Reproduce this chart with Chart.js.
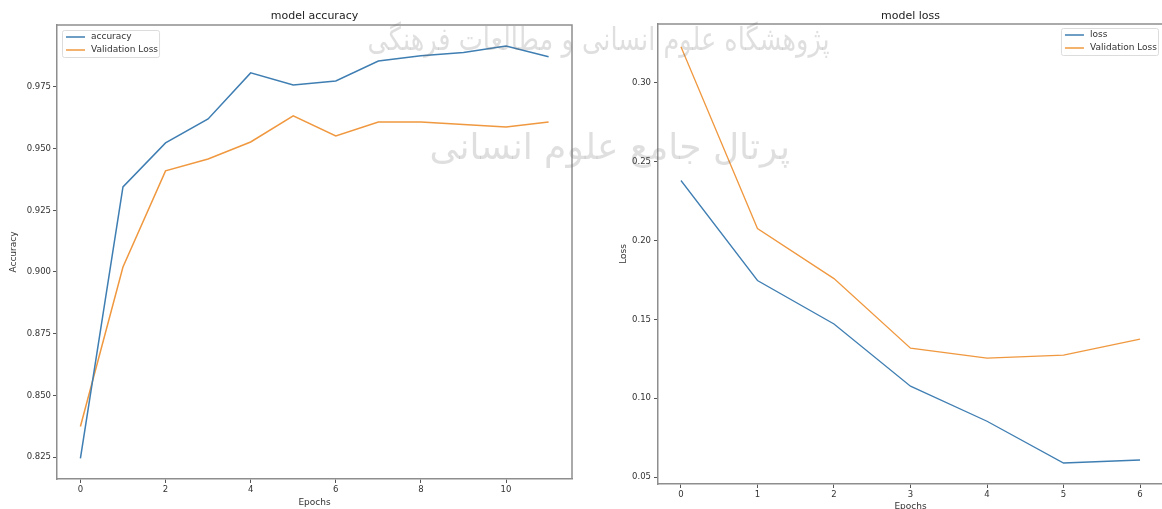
<!DOCTYPE html>
<html>
<head>
<meta charset="utf-8">
<script src="https://cdn.jsdelivr.net/npm/chart.js@4.4.1/dist/chart.umd.min.js"></script>
<style>
  html, body { margin: 0; padding: 0; background: #fff; }
  body { width: 1162px; height: 509px; overflow: hidden; position: relative; }
  .panel { position: absolute; top: 0; }
  .wm {
    position: absolute; white-space: nowrap; direction: rtl;
    font-family: "DejaVu Sans", sans-serif; color: rgba(110,110,110,0.22);
    pointer-events: none; z-index: 5; transform-origin: right center;
  }
</style>
</head>
<body>
<canvas id="accChart" class="panel" style="left:0" width="600" height="509"></canvas>
<canvas id="lossChart" class="panel" style="left:600px" width="580" height="515"></canvas>
<div class="wm" style="right:332px; top:20px; font-size:32px; transform:scaleX(0.8);">پژوهشگاه علوم انسانی و مطالعات فرهنگی</div>
<div class="wm" style="right:372px; top:126px; font-size:36px;">پرتال جامع علوم انسانی</div>
<script>
// Training history: accuracy run (12 epochs) and loss run (7 epochs)
const epochsAcc = [0, 1, 2, 3, 4, 5, 6, 7, 8, 9, 10, 11];
const accuracy = [0.8245, 0.9345, 0.9523, 0.9620, 0.9807, 0.9758, 0.9774, 0.9855, 0.9876, 0.9890, 0.9916, 0.9872];
const valAccuracy = [0.8374, 0.9020, 0.9410, 0.9458, 0.9527, 0.9633, 0.9551, 0.9608, 0.9608, 0.9598, 0.9588, 0.9608];

const epochsLoss = [0, 1, 2, 3, 4, 5, 6];
const loss = [0.2380, 0.1746, 0.1470, 0.1076, 0.0854, 0.0589, 0.0608];
const valLoss = [0.3228, 0.2076, 0.1758, 0.1317, 0.1254, 0.1273, 0.1374];

const accXTicks = [0, 2, 4, 6, 8, 10];
const accYTicks = [0.825, 0.850, 0.875, 0.900, 0.925, 0.950, 0.975];
const lossXTicks = [0, 1, 2, 3, 4, 5, 6];
const lossYTicks = [0.05, 0.10, 0.15, 0.20, 0.25, 0.30];

const FONT = '"DejaVu Sans", "Liberation Sans", sans-serif';
const TEXT = '#333';
const AXIS = '#8e8e8e';
const BLUE = '#3f7eb2';
const ORANGE = '#f0983f';

const toPoints = (xs, ys) => xs.map((x, i) => ({ x, y: ys[i] }));

// Draws the closing top/right spines, the panel title and an in-plot legend box
const panelDecor = {
  id: 'panelDecor',
  afterDraw(chart, args, o) {
    const { ctx, chartArea: a } = chart;
    ctx.save();
    ctx.strokeStyle = AXIS;
    ctx.lineWidth = 1.5;
    ctx.beginPath();
    ctx.moveTo(a.left, a.top);
    ctx.lineTo(a.right, a.top);
    ctx.lineTo(a.right, a.bottom);
    ctx.stroke();

    ctx.fillStyle = '#222';
    ctx.font = '11px ' + FONT;
    ctx.textAlign = 'center';
    ctx.textBaseline = 'middle';
    ctx.fillText(o.title, (a.left + a.right) / 2, o.titleY);

    // legend
    const ds = chart.data.datasets;
    ctx.font = '9px ' + FONT;
    const textW = Math.max(...ds.map(d => ctx.measureText(d.label).width));
    const w = 30 + textW;
    const h = 27;
    const bx = o.legendSide === 'left' ? a.left + 5 : a.right - 5 - w;
    const by = a.top + o.legendTop;
    ctx.fillStyle = 'rgba(255,255,255,0.85)';
    ctx.strokeStyle = '#dcdcdc';
    ctx.lineWidth = 1;
    ctx.beginPath();
    ctx.roundRect(bx + 0.5, by + 0.5, w, h, 2);
    ctx.fill();
    ctx.stroke();
    ds.forEach((d, i) => {
      const y = by + 7 + i * 13;
      ctx.strokeStyle = d.borderColor;
      ctx.lineWidth = 1.5;
      ctx.beginPath();
      ctx.moveTo(bx + 4, y);
      ctx.lineTo(bx + 23, y);
      ctx.stroke();
      ctx.fillStyle = TEXT;
      ctx.textAlign = 'left';
      ctx.fillText(d.label, bx + 29, y);
    });
    ctx.restore();
  }
};

function makeChart(id, cfg) {
  const tickFont = { family: FONT, size: 8.5 };
  const labelFont = { family: FONT, size: 9 };
  return new Chart(document.getElementById(id), {
    type: 'line',
    data: {
      datasets: cfg.series.map(s => ({
        label: s.label,
        data: toPoints(cfg.xs, s.values),
        borderColor: s.color,
        backgroundColor: s.color,
        borderWidth: cfg.lineWidth,
        pointRadius: 0,
        tension: 0,
        fill: false
      }))
    },
    options: {
      responsive: false,
      animation: false,
      events: [],
      layout: { padding: cfg.padding },
      plugins: {
        legend: { display: false },
        title: { display: false },
        tooltip: { enabled: false },
        panelDecor: cfg.decor
      },
      scales: {
        x: {
          type: 'linear',
          min: cfg.xMin, max: cfg.xMax,
          afterBuildTicks: s => { s.ticks = cfg.xTicks.map(v => ({ value: v })); },
          afterFit: s => { s.height = cfg.xAxisHeight; },
          ticks: { font: tickFont, color: TEXT, padding: 2, maxRotation: 0, autoSkip: false,
                   callback: v => String(v) },
          grid: { drawOnChartArea: false, drawTicks: true, tickLength: 4, tickColor: '#555', tickWidth: 1 },
          border: { display: true, color: AXIS, width: 1.5 },
          title: { display: true, text: 'Epochs', font: labelFont, color: TEXT,
                   padding: { top: 0, bottom: cfg.xTitlePad } }
        },
        y: {
          type: 'linear',
          min: cfg.yMin, max: cfg.yMax,
          afterBuildTicks: s => { s.ticks = cfg.yTicks.map(v => ({ value: v })); },
          afterFit: s => { s.width = cfg.yAxisWidth; },
          ticks: { font: tickFont, color: TEXT, padding: cfg.yTickPad, autoSkip: false,
                   callback: v => v.toFixed(cfg.yDecimals) },
          grid: { drawOnChartArea: false, drawTicks: true, tickLength: 4, tickColor: '#555', tickWidth: 1 },
          border: { display: true, color: AXIS, width: 1.5 },
          title: { display: true, text: cfg.yTitle, font: labelFont, color: TEXT,
                   padding: { top: cfg.yTitlePad, bottom: 0 } }
        }
      }
    },
    plugins: [panelDecor]
  });
}

makeChart('accChart', {
  xs: epochsAcc,
  series: [
    { label: 'accuracy', values: accuracy, color: BLUE },
    { label: 'Validation Loss', values: valAccuracy, color: ORANGE }
  ],
  lineWidth: 1.5,
  padding: { top: 25, left: 0, right: 28, bottom: 0 },
  xMin: -0.55, xMax: 11.55, xTicks: accXTicks,
  yMin: 0.8161, yMax: 1.0001, yTicks: accYTicks, yDecimals: 3,
  xAxisHeight: 30, yAxisWidth: 57, yTickPad: 2,
  xTitlePad: 1, yTitlePad: 8, yTitle: 'Accuracy',
  decor: { title: 'model accuracy', titleY: 16, legendSide: 'left', legendTop: 5 }
});

makeChart('lossChart', {
  xs: epochsLoss,
  series: [
    { label: 'loss', values: loss, color: BLUE },
    { label: 'Validation Loss', values: valLoss, color: ORANGE }
  ],
  lineWidth: 1.3,
  padding: { top: 24, left: 0, right: 17, bottom: 0 },
  xMin: -0.3, xMax: 6.3, xTicks: lossXTicks,
  yMin: 0.0456, yMax: 0.3372, yTicks: lossYTicks, yDecimals: 2,
  xAxisHeight: 31, yAxisWidth: 58, yTickPad: 3,
  xTitlePad: 3, yTitlePad: 18, yTitle: 'Loss',
  decor: { title: 'model loss', titleY: 16, legendSide: 'right', legendTop: 4 }
});
</script>
</body>
</html>
